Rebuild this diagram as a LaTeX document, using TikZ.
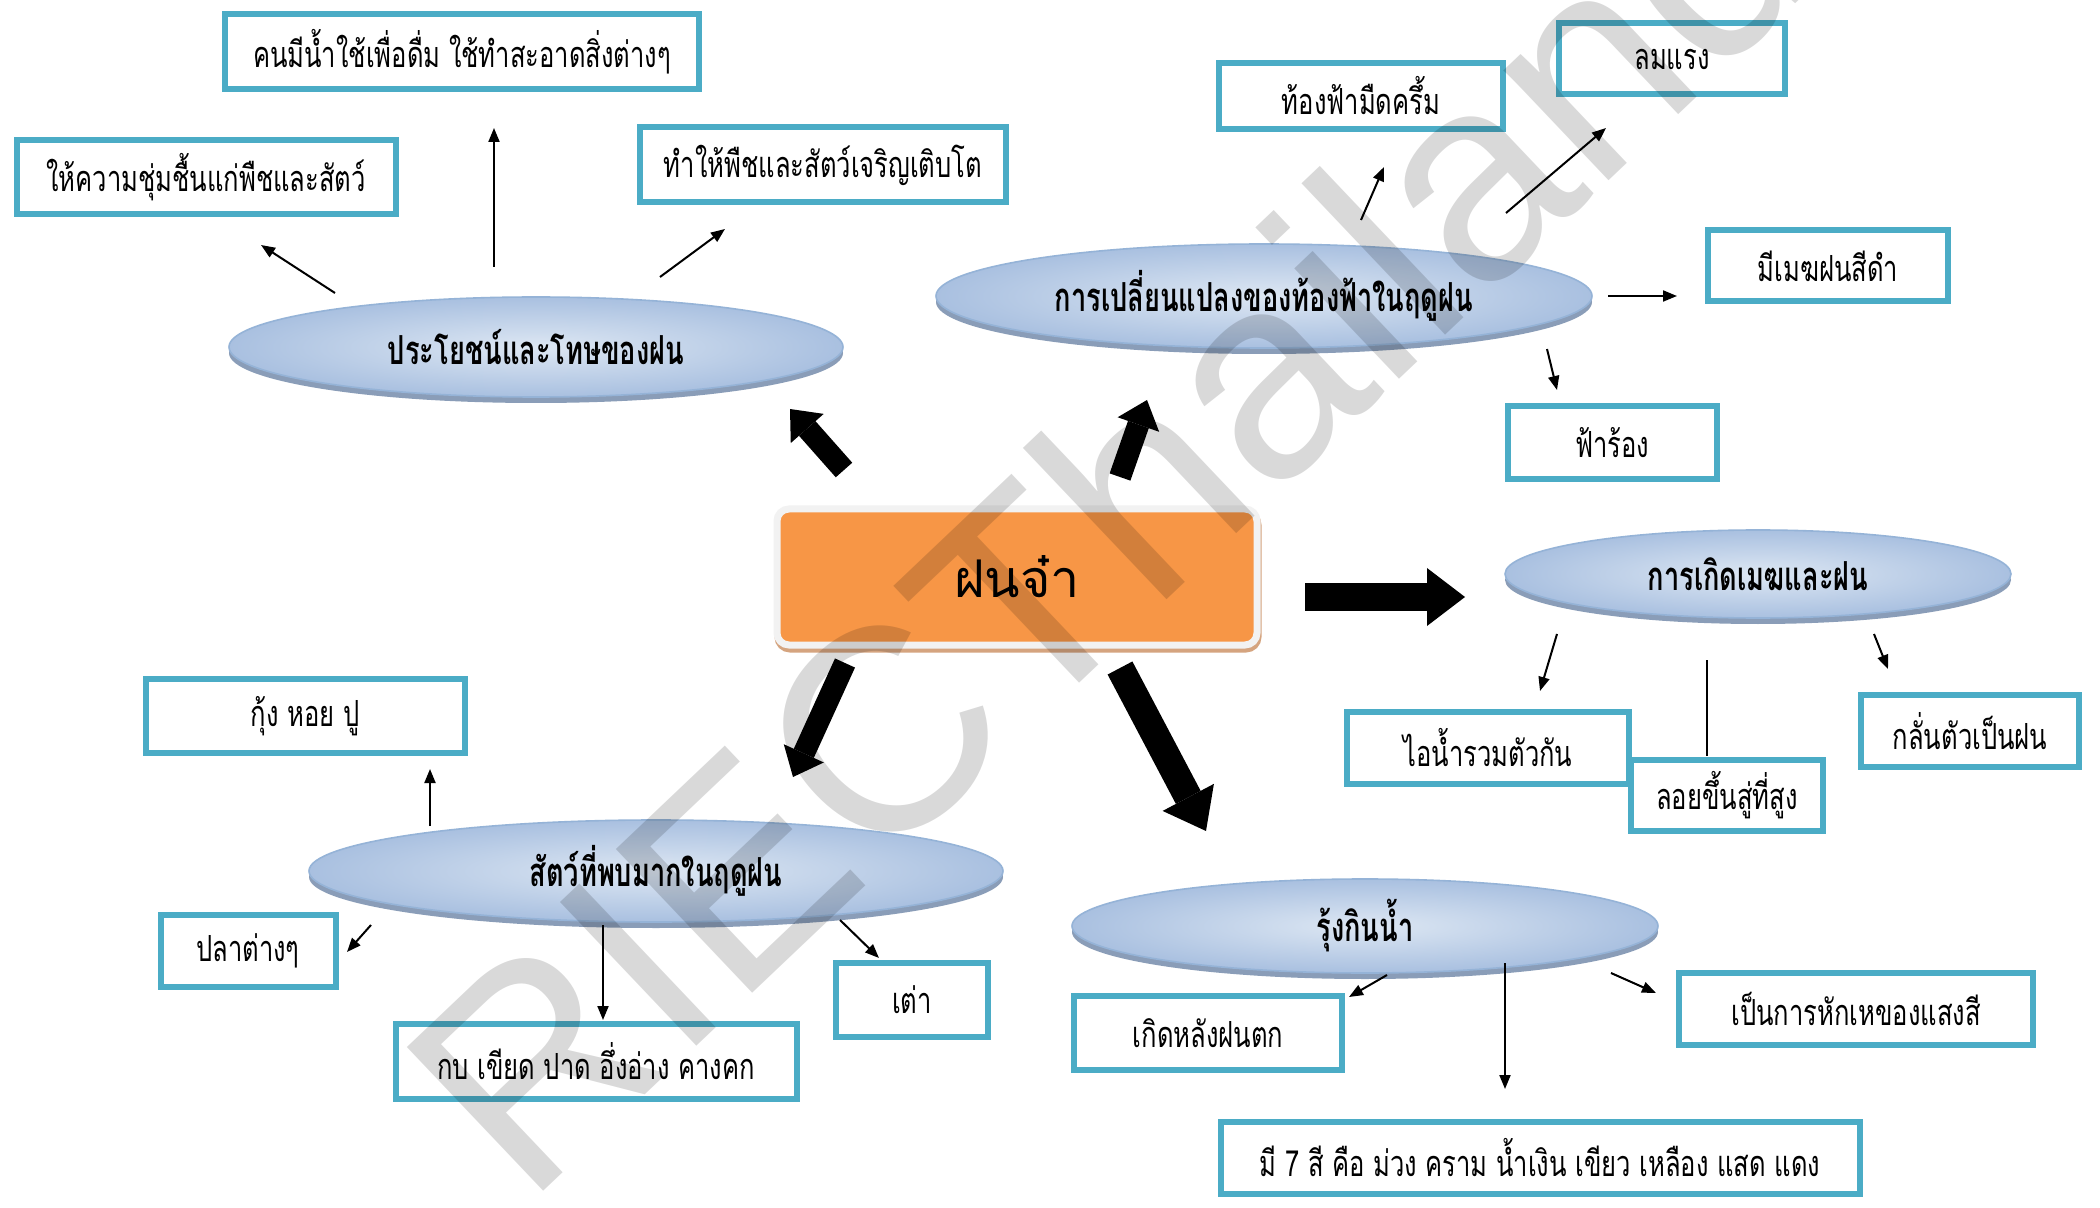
\documentclass[tikz,border=0pt]{standalone}
\usepackage{fontspec}
\usetikzlibrary{shapes.geometric,arrows.meta,shadows}
\newfontfamily\thaifont[Script=Thai,FakeStretch=0.71]{Loma}
\newfontfamily\thaibold[Script=Thai,FakeStretch=0.68]{Loma}
\newfontfamily\thaiplain[Script=Thai]{Loma}
\newfontfamily\markfont{Liberation Sans}
\definecolor{leafblue}{HTML}{4BACC6}
\definecolor{topicline}{HTML}{95B3D7}
\definecolor{topiclight}{HTML}{DDE7F3}
\definecolor{topicdark}{HTML}{A9C0E0}
\definecolor{topicshade}{HTML}{8A9DB8}
\definecolor{rainorange}{HTML}{F79646}
\definecolor{rainframe}{HTML}{F2F2F2}
\definecolor{raintan}{HTML}{D5A47F}

\begin{document}
\begin{tikzpicture}[x=0.5pt,y=0.5pt,yscale=-1,
  leaf/.style={draw=leafblue, line width=3pt, fill=white, inner sep=0pt,
    font=\thaifont\fontsize{18}{22}\selectfont},
  topic/.style={ellipse, draw=topicline, line width=0.8pt, inner sep=0pt,
    inner color=topiclight, outer color=topicdark,
    general shadow={fill=topicshade, shadow yshift=-3pt},
    font=\thaibold\bfseries\fontsize{20}{24}\selectfont},
  thin/.style={line width=1pt, -{Triangle[length=7pt,width=5.5pt]}},
  slim/.style={line width=11pt, -{Triangle[length=13pt,width=22pt,line width=0pt]}},
  fat/.style={line width=14pt, -{Triangle[length=19pt,width=29pt,line width=0pt]}}]
\useasboundingbox (0,0) rectangle (2100,1208);
\fill[white] (0,0) rectangle (2100,1208);

%Centre
\node[rectangle, rounded corners=6pt, fill=rainorange, draw=rainframe, line width=3.5pt,
  minimum width=240pt, minimum height=68pt, inner sep=0pt,
  general shadow={fill=raintan, draw=raintan, line width=3.5pt, shadow yshift=-2pt, shadow xshift=0.5pt},
  font=\thaiplain\fontsize{26}{30}\selectfont] (rain) at (1017,577) {ฝนจ๋า};

%Topics
\node[topic, minimum width=307pt, minimum height=50pt] (benefit) at (536,347) {ประโยชน์และโทษของฝน};
\node[topic, minimum width=328pt, minimum height=52pt] (sky) at (1264,296) {การเปลี่ยนแปลงของท้องฟ้าในฤดูฝน};
\node[topic, minimum width=253pt, minimum height=44pt] (cloud) at (1758,574) {การเกิดเมฆและฝน};
\node[topic, minimum width=347pt, minimum height=51pt] (animal) at (656,871) {สัตว์ที่พบมากในฤดูฝน};
\node[topic, minimum width=293pt, minimum height=47pt] (rainbow) at (1365,926) {รุ้งกินน้ำ};

%Leaves
\node[leaf, minimum width=237pt, minimum height=37.5pt] (drink) at (462,52) {คนมีน้ำใช้เพื่อดื่ม ใช้ทำสะอาดสิ่งต่างๆ};
\node[leaf, minimum width=189.5pt, minimum height=37pt] (moist) at (206,177) {ให้ความชุ่มชื้นแก่พืชและสัตว์};
\node[leaf, minimum width=183pt, minimum height=37.5pt] (grow) at (823,165) {ทำให้พืชและสัตว์เจริญเติบโต};
\node[leaf, minimum width=142pt, minimum height=33pt] (dark) at (1361,96) {ท้องฟ้ามืดครึ้ม};
\node[leaf, minimum width=113pt, minimum height=35.5pt] (wind) at (1672,59) {ลมแรง};
\node[leaf, minimum width=120pt, minimum height=35.5pt] (blackcloud) at (1828,266) {มีเมฆฝนสีดำ};
\node[leaf, minimum width=104.5pt, minimum height=36.5pt] (thunder) at (1612,443) {ฟ้าร้อง};
\node[leaf, minimum width=141pt, minimum height=36pt] (vapor) at (1488,748) {ไอน้ำรวมตัวกัน};
\node[leaf, minimum width=96pt, minimum height=35.5pt] (rise) at (1727,795) {ลอยขึ้นสู่ที่สูง};
\node[leaf, minimum width=109pt, minimum height=36pt] (condense) at (1970,731) {กลั่นตัวเป็นฝน};
\node[leaf, minimum width=159.5pt, minimum height=37pt] (shrimp) at (305,716) {กุ้ง หอย ปู};
\node[leaf, minimum width=87.5pt, minimum height=36pt] (fish) at (248,951) {ปลาต่างๆ};
\node[leaf, minimum width=200.5pt, minimum height=37.5pt] (frog) at (596,1061) {กบ เขียด ปาด อึ่งอ่าง คางคก};
\node[leaf, minimum width=76pt, minimum height=37pt] (turtle) at (912,1000) {เต่า};
\node[leaf, minimum width=134pt, minimum height=37pt] (after) at (1208,1033) {เกิดหลังฝนตก};
\node[leaf, minimum width=177pt, minimum height=36pt] (refract) at (1856,1009) {เป็นการหักเหของแสงสี};
\node[leaf, minimum width=319.5pt, minimum height=36pt] (seven) at (1540,1158) {มี 7 สี คือ ม่วง คราม น้ำเงิน เขียว เหลือง แสด แดง};

%Arrow ends
\coordinate (b1) at (335,293); \coordinate (b1') at (261,245);
\coordinate (b2) at (494,267); \coordinate (b2') at (494,128);
\coordinate (b3) at (660,277); \coordinate (b3') at (725,229);
\coordinate (s1) at (1361,220); \coordinate (s1') at (1384,167);
\coordinate (s2) at (1506,213); \coordinate (s2') at (1606,128);
\coordinate (s3) at (1608,296); \coordinate (s3') at (1677,296);
\coordinate (s4) at (1547,349); \coordinate (s4') at (1557,390);
\coordinate (k1) at (1557,634); \coordinate (k1') at (1540,691);
\coordinate (k2) at (1707,660); \coordinate (k2') at (1707,756);
\coordinate (k3) at (1874,634); \coordinate (k3') at (1888,669);
\coordinate (a1) at (430,826); \coordinate (a1') at (430,769);
\coordinate (a2) at (371,925); \coordinate (a2') at (347,952);
\coordinate (a3) at (603,925); \coordinate (a3') at (603,1020);
\coordinate (a4) at (840,920); \coordinate (a4') at (879,958);
\coordinate (r1) at (1387,975); \coordinate (r1') at (1349,997);
\coordinate (r2) at (1505,963); \coordinate (r2') at (1505,1089);
\coordinate (r3) at (1611,973); \coordinate (r3') at (1656,993);
\coordinate (g1) at (844,470); \coordinate (g1') at (790,409);
\coordinate (g2) at (1120,477); \coordinate (g2') at (1147,400);
\coordinate (g3) at (1305,597); \coordinate (g3') at (1465,597);
\coordinate (g4) at (845,663); \coordinate (g4') at (793,777);
\coordinate (g5) at (1120,668); \coordinate (g5') at (1206,831);

%Thin arrows
\foreach \p in {b1,b2,b3,s1,s2,s3,s4,k1,k3,a1,a2,a3,a4,r1,r2,r3}
  \draw[thin] (\p) -- (\p');
\draw[line width=1pt] (k2) -- (k2');

%Block arrows
\foreach \p in {g1,g2,g4}
  \draw[slim] (\p) -- (\p');
\draw[fat] (g3) -- (g3');
\draw[fat] (g5) -- (g5');

%Watermark
\node[rotate=43.5, anchor=base west, inner sep=0pt, text=black, text opacity=0.15,
  font=\markfont\fontsize{144}{144}\selectfont] (mark) at (526,1208) {RIECThailand};

\end{tikzpicture}
\end{document}
